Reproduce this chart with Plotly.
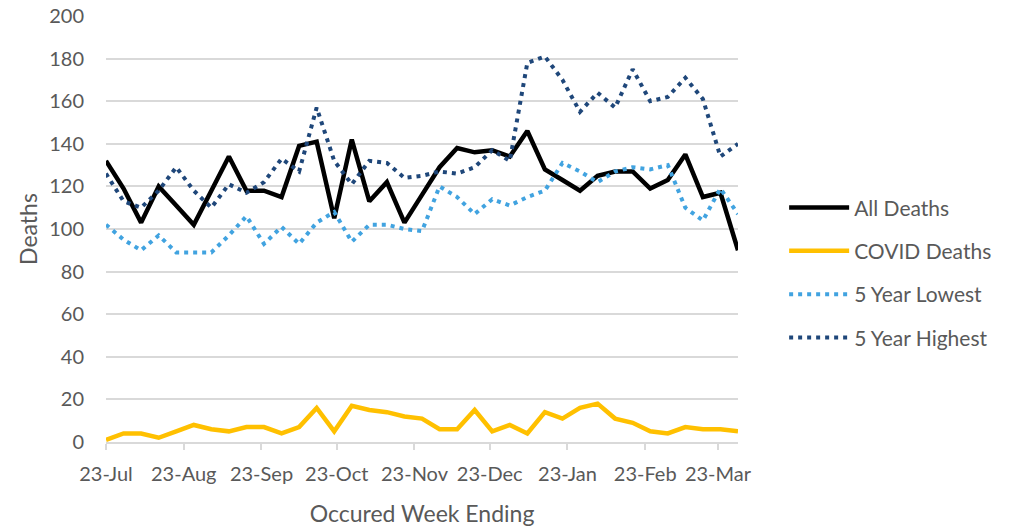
import plotly.graph_objects as go
import pandas as pd

start_date = "2023-07-23"
n_weeks = 37
week_ending = pd.date_range(start_date, periods=n_weeks, freq="7D")

all_deaths = [132, 119, 103, 120, 111, 102, 118, 134, 118, 118, 115, 139, 141, 105, 142, 113, 122, 103, 116, 129,
              138, 136, 137, 134, 146, 128, 123, 118, 125, 127, 127, 119, 123, 135, 115, 117, 90]
covid_deaths = [1, 4, 4, 2, 5, 8, 6, 5, 7, 7, 4, 7, 16, 5, 17, 15, 14, 12, 11, 6,
                6, 15, 5, 8, 4, 14, 11, 16, 18, 11, 9, 5, 4, 7, 6, 6, 5]
five_year_lowest = [102, 95, 90, 97, 89, 89, 89, 97, 106, 93, 101, 93, 103, 108, 94, 102, 102, 100, 99, 120,
                    115, 107, 114, 111, 115, 118, 131, 127, 122, 127, 129, 128, 130, 110, 104, 119, 107]
five_year_highest = [126, 113, 110, 118, 129, 118, 110, 121, 117, 122, 133, 127, 157, 132, 121, 132, 131, 124, 125, 127,
                     126, 129, 137, 132, 178, 181, 170, 155, 164, 157, 175, 160, 162, 171, 161, 134, 140]

series_names = ["All Deaths", "COVID Deaths", "5 Year Lowest", "5 Year Highest"]
y_ticks = [0, 20, 40, 60, 80, 100, 120, 140, 160, 180, 200]

FONT = "Lato, Calibri, sans-serif"
GREY = "#595959"

fig = go.Figure()
fig.add_trace(go.Scatter(x=week_ending, y=all_deaths, name=series_names[0], mode="lines",
                         line=dict(color="#000000", width=4.5), legendgroup="a"))
fig.add_trace(go.Scatter(x=week_ending, y=covid_deaths, name=series_names[1], mode="lines",
                         line=dict(color="#FFC000", width=4.5), legendgroup="b"))
fig.add_trace(go.Scatter(x=week_ending, y=five_year_lowest, name=series_names[2], mode="lines",
                         line=dict(color="#41A3E0", width=4, dash="4px,5px"), legendgroup="c"))
fig.add_trace(go.Scatter(x=week_ending, y=five_year_highest, name=series_names[3], mode="lines",
                         line=dict(color="#1F477A", width=4, dash="4px,5px"), legendgroup="d"))

fig.update_layout(
    width=1011, height=527,
    margin=dict(l=106, r=273, t=16, b=85, autoexpand=False),
    paper_bgcolor="white", plot_bgcolor="white",
    font=dict(family=FONT, size=20, color=GREY),
    legend=dict(x=1.073, y=0.397, xanchor="left", yanchor="middle",
                font=dict(family=FONT, size=21, color=GREY),
                traceorder="grouped", tracegroupgap=13, itemwidth=60),
    showlegend=True,
)
fig.update_xaxes(
    automargin=False,
    range=[week_ending[0], week_ending[-1]],
    tick0=start_date, dtick="M1", tickformat="%d-%b",
    ticks="outside", ticklen=6, tickcolor="#D9D9D9", tickwidth=1.5,
    ticklabelstandoff=7, ticklabeloverflow="allow",
    showline=True, linecolor="#D9D9D9", linewidth=1.5,
    showgrid=False, zeroline=False,
    tickfont=dict(family=FONT, size=20, color=GREY),
    title=dict(text="Occured Week Ending", font=dict(family=FONT, size=23, color=GREY), standoff=27),
)
fig.update_yaxes(
    automargin=False,
    range=[0, 200], tickvals=y_ticks, ticklabeloverflow="allow",
    showgrid=True, gridcolor="#D9D9D9", gridwidth=1.5,
    zeroline=False, showline=False, ticks="outside", ticklen=17, tickcolor="rgba(0,0,0,0)",
    tickfont=dict(family=FONT, size=20, color=GREY),
    title=dict(text="Deaths", font=dict(family=FONT, size=23, color=GREY), standoff=5),
)

# remove the default 8px page margin so the figure fills the window
fig.write_html("out.html", config={"displayModeBar": False},
               post_script="document.body.style.margin='0px';")
